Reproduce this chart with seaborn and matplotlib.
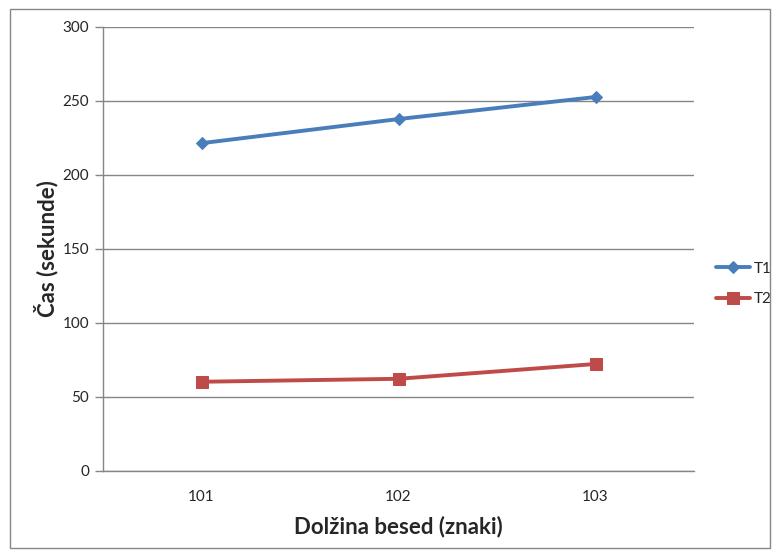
import matplotlib
matplotlib.use("Agg")
import matplotlib.pyplot as plt
import seaborn as sns
import pandas as pd
import numpy as np
from matplotlib.patches import Rectangle

categories = ["101", "102", "103"]
t1_values = [221.5, 237.8, 252.7]
t2_values = [60.3, 62.3, 72.3]
series_names = ["T1", "T2"]
y_ticks = [0, 50, 100, 150, 200, 250, 300]

sns.set_style("white")
plt.rcParams['font.family'] = ['Lato', 'DejaVu Sans']

pos = np.arange(len(categories))
df = pd.DataFrame({
    "x": np.concatenate([pos, pos]),
    "y": t1_values + t2_values,
    "s": [series_names[0]] * 3 + [series_names[1]] * 3,
})

fig = plt.figure(figsize=(7.76, 5.54), dpi=100)
ax = fig.add_axes([103/776, 1 - 471/554, (694-103)/776, (471-27)/554])

colors = {"T1": "#4A7EBB", "T2": "#BE4B48"}
markers = {"T1": "D", "T2": "s"}
sizes = {"T1": 6, "T2": 8}
for name in series_names:
    sub = df[df.s == name]
    sns.lineplot(data=sub, x="x", y="y", ax=ax, color=colors[name],
                 marker=markers[name], markersize=sizes[name],
                 markeredgecolor=colors[name], linewidth=2.8, label=name)

ax.set_xlim(-0.5, len(categories) - 0.5)
ax.set_ylim(0, 300)
ax.set_yticks(y_ticks)
ax.set_yticklabels([str(v) for v in y_ticks], fontsize=11)
ax.set_xticks(pos)
ax.set_xticklabels(categories, fontsize=11)
ax.set_xticks(np.arange(-0.5, len(categories)), minor=True)
ax.tick_params(axis='x', which='major', length=0, pad=14)
ax.tick_params(axis='x', which='minor', length=6, color='#868686', width=1)
ax.tick_params(axis='y', length=6, color='#868686', width=1, pad=4, direction='out', left=True)
ax.yaxis.grid(True, color='#868686', linewidth=1)
ax.xaxis.grid(False)
for sp in ['top', 'right']:
    ax.spines[sp].set_visible(False)
for sp in ['left', 'bottom']:
    ax.spines[sp].set_color('#868686')
    ax.spines[sp].set_linewidth(1)

ax.set_xlabel("Dolžina besed (znaki)", fontsize=16, fontweight='bold', labelpad=8)
ax.set_ylabel("Čas (sekunde)", fontsize=16, fontweight='bold', labelpad=3)

leg = ax.legend(loc='center left', bbox_to_anchor=(716/776, 1 - 284/554),
                bbox_transform=fig.transFigure, frameon=False,
                fontsize=11, handlelength=2.2, labelspacing=1.1, handletextpad=0.3,
                borderpad=0, borderaxespad=0)

fig.patches.append(Rectangle((10/776, 1 - 548/554), 760/776, 539/554,
                             transform=fig.transFigure, fill=False,
                             edgecolor='#868686', linewidth=1))

fig.savefig("out.png", dpi=100)
